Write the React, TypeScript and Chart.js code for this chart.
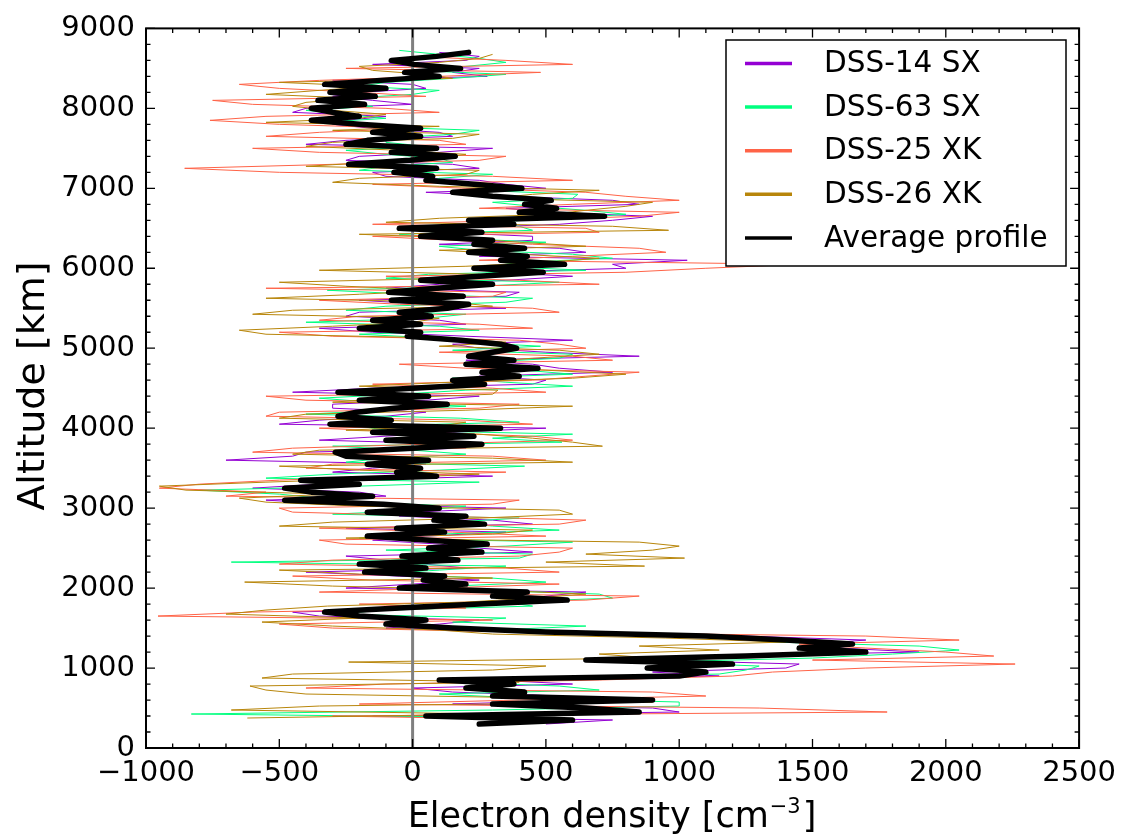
import React, { useEffect, useRef } from "react";
import { Chart, registerables } from "chart.js";

Chart.register(...registerables);

// altitude sampling grids (km)
const grid = (start: number, step: number, n: number) =>
  Array.from({ length: n }, (_, i) => start + i * step);

const SERIES_LABELS = ["DSS-14 SX", "DSS-63 SX", "DSS-25 XK", "DSS-26 XK", "Average profile"];
const SERIES_COLORS = ["#9400D3", "#00FF7F", "#FF6347", "#B8860B", "#000000"];

const X_TICKS = [-1000, -500, 0, 500, 1000, 1500, 2000, 2500];
const Y_TICKS = [0, 1000, 2000, 3000, 4000, 5000, 6000, 7000, 8000, 9000];

// DSS-14 SX: samples at 300..8700 km (A) and 350..8650 km (B)
const DSS14_ALT_A = grid(300, 100, 85);
const DSS14_VALUES_A = [
  500, -150, 900, 650, 150, 600, 1150, 1400, 900, 1900,
  1500, 1250, -100, 250, -450, 100, 500, -250, 250, -400,
  50, -250, 250, -150, 350, 450, -50, 350, -550, -200,
  -350, 300, -150, -700, -400, 200, -100, 500, -350, 50,
  -300, 250, -150, 500, 750, 450, 850, 250, 600, -150,
  200, -250, 350, -200, 400, 100, 600, 800, 1030, 650,
  100, 450, 150, 750, 500, 850, 350, 500, 250, -150,
  150, -200, 300, -250, 100, -300, -100, -400, -150, -200,
  0, 280, 250, 200, 100,
];
const DSS14_ALT_B = grid(350, 100, 84);
const DSS14_VALUES_B = [
  750, 1000, 150, 550, 0, 300, 900, 1450, 1100, 1600,
  1700, 700, 100, -350, 150, 400, 650, 0, -50, 200,
  -100, 450, 100, 50, -250, 300, 0, -300, -100, -600,
  -200, -300, 50, -450, 200, -350, 150, -500, -100, -300,
  50, -450, 450, 250, 550, 200, 500, 150, 200, -350,
  100, -200, 50, 350, -100, 350, 300, 750, 250, 550,
  450, 100, 550, 900, 350, 750, 50, 350, -100, 250,
  -250, 100, -400, 150, -150, -250, -450, 0, -300, 50,
  -300, 150, -150, 250,
];

// DSS-63 SX: samples at 325..8725 km (A) and 375..8675 km (B)
const DSS63_ALT_A = grid(325, 100, 85);
const DSS63_VALUES_A = [
  300, -830, 1000, 400, 700, 150, 1150, 1300, 1500, 2050,
  1350, 850, 650, 350, -100, 350, 700, 150, 300, 100,
  -680, 450, 350, -200, 550, 150, -300, 200, -350, -800,
  250, -300, 420, -100, 0, 560, 600, -200, 180, -100,
  -150, -50, 600, 150, 420, 250, 600, 480, 100, 250,
  -400, 200, -100, 450, -320, 550, 60, 300, 750, 250,
  500, -50, 400, 600, 650, 300, 620, 400, 100, -200,
  150, -100, 50, -100, 250, -350, -250, -150, -250, 100,
  -100, 350, 200, 250, -50,
];
const DSS63_ALT_B = grid(375, 100, 84);
const DSS63_VALUES_B = [
  500, 300, 1000, 100, 550, 400, 1250, 900, 1800, 1900,
  1200, 300, 150, -300, 450, 750, 250, 500, -150, 350,
  400, -100, 600, 100, 300, 400, 50, -250, -500, -200,
  -550, 100, -250, 200, -300, 300, -100, 400, -400, 200,
  -350, 200, 350, 600, 300, 550, 150, 200, -200, 100,
  50, -250, 350, 0, 250, -100, 650, 400, 600, 100,
  150, 450, 250, 800, 450, 600, 250, 50, 300, -100,
  100, -250, -100, 150, -200, -100, -400, -300, 0, -200,
  150, 0, 350, 100,
];

// DSS-25 XK: samples at 350..8650 km (A) and 400..8600 km (B)
const DSS25_ALT_A = grid(350, 100, 84);
const DSS25_VALUES_A = [
  600, 1780, -200, 1100, -400, 700, 1350, 2260, 2180, 1700,
  2050, 400, -500, -955, 200, 650, -350, 550, -450, 350,
  -300, 550, -250, 500, -350, 650, -450, 300, -700, -950,
  -500, 350, -300, 300, -450, 600, 0, 450, -550, 250,
  -400, 500, -150, 650, 200, 750, 100, 550, -300, 450,
  -350, 550, -50, 300, -550, 400, 800, 1450, 600, 850,
  150, 700, -150, 850, 250, 1000, 650, -150, 300, -855,
  250, -350, 200, -550, 0, -760, 100, -600, 50, -500,
  -350, 480, 600, 0,
];
const DSS25_ALT_B = grid(400, 100, 83);
const DSS25_VALUES_B = [
  -300, 1300, 400, 900, -100, 1200, 1700, 1500, 2000, 1450,
  1700, -300, 300, -600, -200, 850, 100, -150, 550, -500,
  400, 600, -350, 150, 550, 100, -500, 400, -550, -800,
  -100, -400, 500, -600, 50, 450, -350, 200, -500, 400,
  -550, 300, 450, 850, -50, 600, 650, 400, -500, 250,
  -200, 450, -350, 350, 700, -100, 1100, 250, 950, 450,
  -150, 650, 400, 1000, 600, 800, 200, 600, -500, -300,
  350, -600, 100, -350, -500, -550, -100, -750, -200, -650,
  100, -250, 350,
];

// DSS-26 XK: samples at 375..8675 km (A) and 425..8625 km (B)
const DSS26_ALT_A = grid(375, 100, 84);
const DSS26_VALUES_A = [
  -620, -680, 900, -400, -610, -565, 300, -240, 700, 850,
  950, 100, -565, -700, -320, 450, 300, -630, -200, 870,
  1020, 900, 850, 300, -500, 250, 550, -550, -300, -950,
  -100, -200, 600, -450, 712, 450, -250, 200, -400, 600,
  -100, 320, 150, 800, 200, 450, 550, 350, -550, -300,
  100, -450, 150, -200, -250, 150, -350, 500, 400, 650,
  200, 960, -100, 520, 800, 300, 700, -300, 200, -400,
  100, -50, -300, 250, 100, -200, -300, -400, -550, -150,
  150, -150, 100, 300,
];
const DSS26_ALT_B = grid(425, 100, 83);
const DSS26_VALUES_B = [
  300, -350, 500, -550, 400, -450, 500, 900, 1150, 1400,
  300, -300, -200, -550, 200, 650, -300, 300, -500, 500,
  650, 1000, -250, 450, -300, 600, -200, -650, -850, -550,
  250, -500, 300, -350, 600, 250, 100, -500, 200, -300,
  300, -200, 600, 500, 250, 700, 100, 150, -650, 0,
  -600, 300, -550, 100, -500, 250, 200, 700, 100, 400,
  -200, 750, 100, 650, 900, 450, 100, -200, 250, -150,
  200, -400, 150, -300, -550, -100, -450, -200, -350, -500,
  50, -200, 250,
];

// Average profile, altitudes 300..8700 km every 50 km
const AVG_ALT = grid(300, 50, 169);
const AVG_VALUES = [
  250, 600, 50, 850, 650, 300, 900, 300, 420, 200,
  380, 100, 1000, 1100, 880, 1200, 650, 1250, 1700, 1450,
  1650, 1400, 1100, 500, 150, -100, 50, -200, -330, -50,
  250, 580, 300, 430, -50, 200, 40, 120, -180, 50,
  -200, 170, -40, 260, 60, 280, 50, -170, 120, -60,
  270, 80, 200, -170, 100, -110, -480, -150, -380, -480,
  -200, -420, 90, -60, 30, -170, 60, -250, -290, 0,
  260, -100, 230, -150, 330, -310, -80, -280, -210, -70,
  130, -200, 60, -280, 0, 270, 150, 400, 260, 470,
  200, 380, 210, 300, 390, 330, 180, -20, 30, -200,
  30, -150, 70, -50, 130, 210, -80, 190, -90, 90,
  300, 30, 250, 490, 230, 570, 330, 430, 210, 420,
  230, 300, 30, 260, -50, 380, 210, 720, 400, 540,
  420, 520, 300, 150, 410, 230, 50, 75, -70, 90,
  -240, -10, 160, -80, 90, -250, -170, 30, -150, 30,
  -200, -380, -200, -300, -380, -180, -355, -140, -310, -100,
  -330, -120, 100, -30, 180, 5, -80, 90, 210,
];

const ZERO_LINE_X = [0, 0];
const ZERO_LINE_Y = [0, 9000];

const toPoints = (xs: number[], ys: number[]) => xs.map((x, i) => ({ x, y: ys[i] }));
const merged = (va: number[], aa: number[], vb: number[], ab: number[]) =>
  [...toPoints(va, aa), ...toPoints(vb, ab)].sort((p, q) => p.y - q.y);

const FONT = "'DejaVu Sans', 'Liberation Sans', sans-serif";

const decorPlugin = {
  id: "decor",
  afterDraw(chart: any) {
    const { ctx, chartArea: a, scales } = chart;
    const xs = scales.x;
    const ys = scales.y;
    ctx.save();
    ctx.strokeStyle = "#000";
    ctx.lineWidth = 1.3;
    ctx.beginPath();
    for (let v = -1000; v <= 2500; v += 100) {
      const major = v % 500 === 0;
      const len = major ? 9 : 4.5;
      const px = xs.getPixelForValue(v);
      ctx.moveTo(px, a.bottom);
      ctx.lineTo(px, a.bottom - len);
      ctx.moveTo(px, a.top);
      ctx.lineTo(px, a.top + len);
    }
    for (let v = 0; v <= 9000; v += 200) {
      const major = v % 1000 === 0;
      const len = major ? 9 : 4.5;
      const py = ys.getPixelForValue(v);
      ctx.moveTo(a.left, py);
      ctx.lineTo(a.left + len, py);
      ctx.moveTo(a.right, py);
      ctx.lineTo(a.right - len, py);
    }
    ctx.stroke();
    ctx.lineWidth = 2;
    ctx.strokeRect(a.left, a.top, a.right - a.left, a.bottom - a.top);

    // legend
    const bx = 726, by = 40, bw = 340, bh = 226;
    ctx.fillStyle = "#fff";
    ctx.fillRect(bx, by, bw, bh);
    ctx.lineWidth = 1.5;
    ctx.strokeStyle = "#000";
    ctx.strokeRect(bx, by, bw, bh);
    ctx.font = `29.5px ${FONT}`;
    ctx.textBaseline = "middle";
    ctx.textAlign = "left";
    for (let i = 0; i < SERIES_LABELS.length; i++) {
      const y = 63.5 + i * 43.6;
      ctx.strokeStyle = SERIES_COLORS[i];
      ctx.lineWidth = 3.5;
      ctx.beginPath();
      ctx.moveTo(745, y);
      ctx.lineTo(792, y);
      ctx.stroke();
      ctx.fillStyle = "#000";
      ctx.fillText(SERIES_LABELS[i], 824, y + 1);
    }

    // axis titles
    ctx.fillStyle = "#000";
    ctx.textBaseline = "alphabetic";
    const main = "Electron density [cm";
    const sup = "\u22123";
    const end = "]";
    ctx.font = `35px ${FONT}`;
    const w1 = ctx.measureText(main).width;
    const w3 = ctx.measureText(end).width;
    ctx.font = `21px ${FONT}`;
    const w2 = ctx.measureText(sup).width;
    const total = w1 + w2 + 3 + w3;
    const x0 = 612 - total / 2;
    ctx.font = `35px ${FONT}`;
    ctx.fillText(main, x0, 827);
    ctx.font = `21px ${FONT}`;
    ctx.fillText(sup, x0 + w1 + 1, 813);
    ctx.font = `35px ${FONT}`;
    ctx.fillText(end, x0 + w1 + w2 + 3, 827);

    ctx.save();
    ctx.translate(44, 386);
    ctx.rotate(-Math.PI / 2);
    ctx.textAlign = "center";
    ctx.font = `38px ${FONT}`;
    ctx.fillText("Altitude [km]", 0, 0);
    ctx.restore();

    ctx.restore();
  },
};

export default function App() {
  const ref = useRef<HTMLCanvasElement | null>(null);

  useEffect(() => {
    if (!ref.current) return;
    const colored = [
      merged(DSS14_VALUES_A, DSS14_ALT_A, DSS14_VALUES_B, DSS14_ALT_B),
      merged(DSS63_VALUES_A, DSS63_ALT_A, DSS63_VALUES_B, DSS63_ALT_B),
      merged(DSS25_VALUES_A, DSS25_ALT_A, DSS25_VALUES_B, DSS25_ALT_B),
      merged(DSS26_VALUES_A, DSS26_ALT_A, DSS26_VALUES_B, DSS26_ALT_B),
    ];
    const datasets: any[] = colored.map((pts, i) => ({
      label: SERIES_LABELS[i],
      data: pts,
      borderColor: SERIES_COLORS[i],
      backgroundColor: SERIES_COLORS[i],
      borderWidth: 1,
      showLine: true,
      pointRadius: 0,
      tension: 0,
      order: 5 - i,
    }));
    datasets.push({
      label: "zero",
      data: toPoints(ZERO_LINE_X, ZERO_LINE_Y),
      borderColor: "#808080",
      borderWidth: 3,
      showLine: true,
      pointRadius: 0,
      order: 1,
    });
    datasets.push({
      label: SERIES_LABELS[4],
      data: toPoints(AVG_VALUES, AVG_ALT),
      borderColor: SERIES_COLORS[4],
      backgroundColor: SERIES_COLORS[4],
      borderWidth: 5.5,
      borderJoinStyle: "round",
      borderCapStyle: "round",
      showLine: true,
      pointRadius: 0,
      tension: 0,
      order: 0,
    });

    const chart = new Chart(ref.current, {
      type: "scatter",
      data: { datasets },
      options: {
        animation: false,
        responsive: false,
        devicePixelRatio: 1,
        layout: { padding: { left: 0, top: 25, right: 44, bottom: 0 } },
        plugins: {
          legend: { display: false },
          tooltip: { enabled: false },
        },
        scales: {
          x: {
            type: "linear",
            min: -1000,
            max: 2500,
            afterBuildTicks: (s: any) => {
              s.ticks = X_TICKS.map((v) => ({ value: v }));
            },
            afterFit: (s: any) => {
              s.height = 89;
            },
            grid: { display: false, drawTicks: false },
            border: { display: false },
            ticks: {
              autoSkip: false,
              maxRotation: 0,
              padding: 8,
              color: "#000",
              font: { family: FONT, size: 29 },
              callback: (v: any) => String(v).replace("-", "\u2212"),
            },
          },
          y: {
            type: "linear",
            min: 0,
            max: 9000,
            afterBuildTicks: (s: any) => {
              s.ticks = Y_TICKS.map((v) => ({ value: v }));
            },
            afterFit: (s: any) => {
              s.width = 146;
            },
            grid: { display: false, drawTicks: false },
            border: { display: false },
            ticks: {
              autoSkip: false,
              padding: 11,
              color: "#000",
              font: { family: FONT, size: 29 },
              callback: (v: any) => String(v),
            },
          },
        },
      },
      plugins: [decorPlugin],
    } as any);
    return () => chart.destroy();
  }, []);

  return (
    <div style={{ position: "absolute", left: 0, top: 0, width: 1124, height: 837, background: "#fff" }}>
      <canvas ref={ref} width={1124} height={837} style={{ display: "block" }} />
    </div>
  );
}
